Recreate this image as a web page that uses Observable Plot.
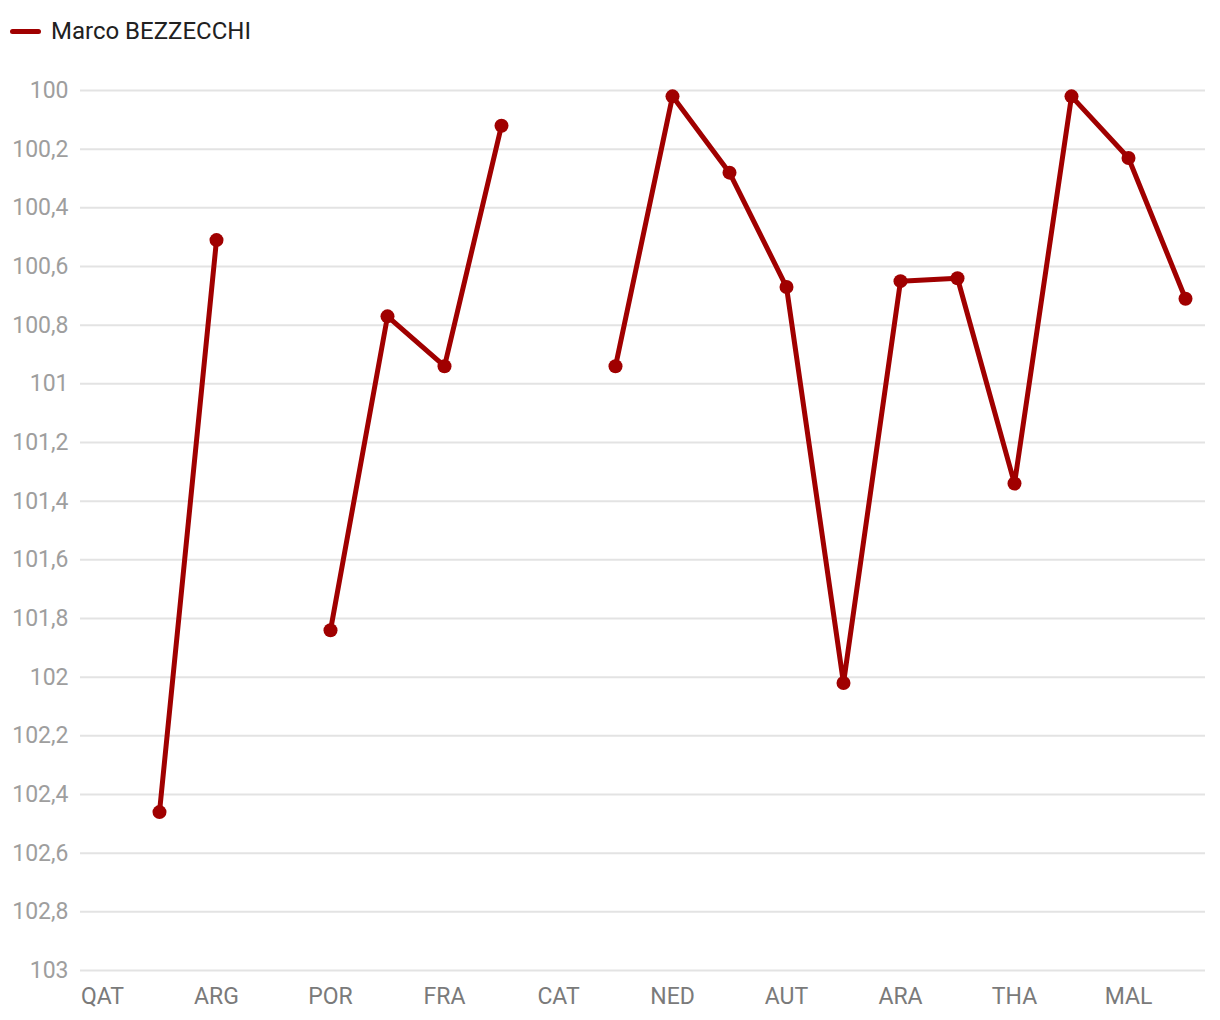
<!DOCTYPE html>
<html><head><meta charset="utf-8">
<script src="https://cdn.jsdelivr.net/npm/d3@7"></script>
<script src="https://cdn.jsdelivr.net/npm/@observablehq/plot@0.6"></script>
<style>
body{margin:0;background:#fff;font-family:Roboto,sans-serif;}
#legend{height:62px;display:flex;align-items:center;padding-left:10px;font-size:24px;color:#212121;box-sizing:border-box;}
.sw{display:inline-block;width:31px;height:5px;border-radius:3px;background:#a00000;margin-right:10px;}
#chart svg{display:block;}
</style></head><body>
<div id="legend"><span class="sw"></span><span id="lname"></span></div>
<div id="chart"></div>
<script>
const rounds = ["QAT","INA","ARG","AME","POR","SPA","FRA","ITA","CAT","GER","NED","GBR","AUT","RSM","ARA","JPN","THA","AUS","MAL","VAL"];
const rider = "Marco BEZZECCHI";
const values = [null,102.46,100.51,null,101.84,100.77,100.94,100.12,null,100.94,100.02,100.28,100.67,102.02,100.65,100.64,101.34,100.02,100.23,100.71];
const xTickLabels = ["QAT","ARG","POR","FRA","CAT","NED","AUT","ARA","THA","MAL"];
const yTicks = [100,100.2,100.4,100.6,100.8,101,101.2,101.4,101.6,101.8,102,102.2,102.4,102.6,102.8,103];
const lineColor = "#a00000";

document.getElementById("lname").textContent = rider;

const data = rounds.map((r, i) => ({round: r, value: values[i]}));
const fmt = d => (Math.abs(d - Math.round(d)) < 1e-9 ? String(Math.round(d)) : d.toFixed(1).replace(".", ","));

const chart = Plot.plot({
  width: 1220,
  height: 958,
  marginLeft: 80,
  marginRight: 15,
  marginTop: 28,
  marginBottom: 50,
  style: {fontFamily: "Roboto, sans-serif", fontSize: "23px", background: "#fff"},
  x: {type: "point", domain: rounds, padding: 0, insetLeft: 21, insetRight: 19, label: null},
  y: {domain: [100, 103], reverse: true, label: null},
  marks: [
    Plot.gridY(yTicks, {stroke: "#e3e3e3", strokeOpacity: 1, strokeWidth: 2}),
    Plot.axisY(yTicks, {tickSize: 0, tickPadding: 12, tickFormat: fmt, fill: "#9e9e9e", fontSize: 23, label: null}),
    Plot.axisX(xTickLabels, {tickSize: 0, tickPadding: 17, fill: "#7a7a7a", fontSize: 23, label: null}),
    Plot.line(data, {x: "round", y: "value", stroke: lineColor, strokeWidth: 5, curve: "linear"}),
    Plot.dot(data.filter(d => d.value != null), {x: "round", y: "value", r: 7, fill: lineColor, stroke: "none"})
  ]
});
document.getElementById("chart").appendChild(chart);
</script>
</body></html>
